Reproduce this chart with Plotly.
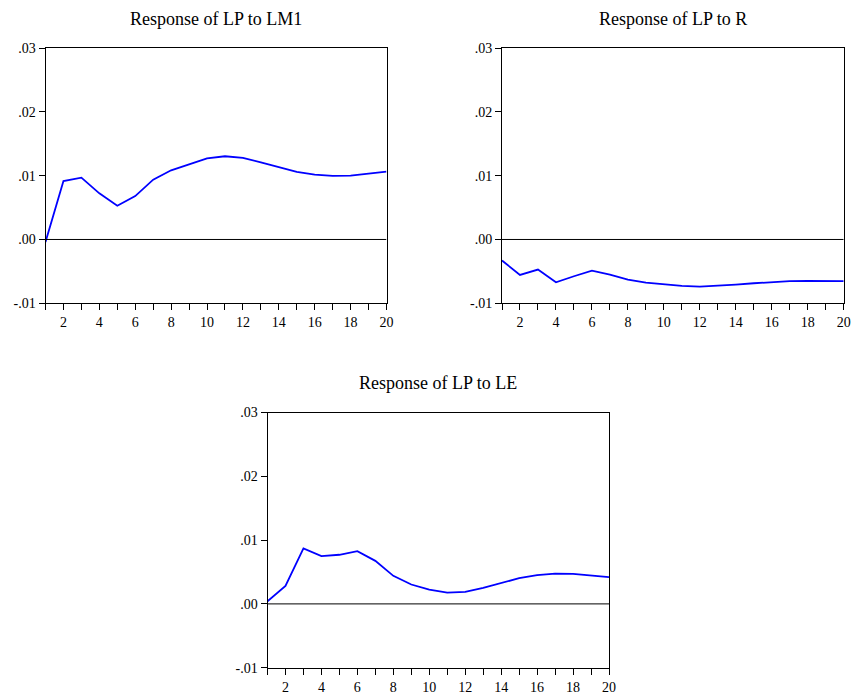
import plotly.graph_objects as go

periods = list(range(1, 21))
lm1 = [-0.0004, 0.00916, 0.00969, 0.00723, 0.00529, 0.0068, 0.00937, 0.01084, 0.01178, 0.01272,
       0.01304, 0.01277, 0.01209, 0.01136, 0.01058, 0.01016, 0.00995, 0.0100, 0.01026, 0.01063]
r = [-0.0033, -0.00555, -0.00471, -0.0067, -0.00576, -0.00487, -0.0055, -0.00628, -0.00675, -0.00707,
     -0.00728, -0.00738, -0.00728, -0.00707, -0.00686, -0.00665, -0.00654, -0.00649, -0.00649, -0.00654]
le = [0.0004, 0.00283, 0.00869, 0.00749, 0.0077, 0.00827, 0.00675, 0.0044, 0.00304, 0.00225,
      0.00178, 0.00188, 0.00251, 0.0033, 0.00403, 0.0045, 0.00476, 0.00471, 0.0045, 0.00419]
titles = ["Response of LP to LM1", "Response of LP to R", "Response of LP to LE"]
ytickvals = [-0.01, 0.0, 0.01, 0.02, 0.03]
yticktext = ["-.01", ".00", ".01", ".02", ".03"]

W, H = 856, 698
boxes = [  # left, right, top, bottom in pixels
    (45.5, 386.5, 48, 303.3),
    (502, 843.7, 48, 303.3),
    (267.5, 609, 412.5, 667.7),
]
series = [lm1, r, le]
font = "Liberation Serif, Times New Roman, serif"

fig = go.Figure()
layout = dict(width=W, height=H, margin=dict(l=0, r=0, t=0, b=0, pad=0, autoexpand=False),
              template="none",
              paper_bgcolor="white", plot_bgcolor="white", showlegend=False,
              font=dict(family=font, size=14, color="black"))
annotations = []
for i, (vals, (l, rr, t, b)) in enumerate(zip(series, boxes)):
    n = "" if i == 0 else str(i + 1)
    fig.add_trace(go.Scatter(x=periods, y=vals, mode="lines",
                             line=dict(color="#0000ff", width=1.8),
                             xaxis="x" + n, yaxis="y" + n, hoverinfo="skip"))
    fig.add_trace(go.Scatter(x=[periods[0], periods[-1]], y=[0, 0], mode="lines",
                             line=dict(color="black", width=1),
                             xaxis="x" + n, yaxis="y" + n, hoverinfo="skip"))
    layout["xaxis" + n] = dict(domain=[l / W, rr / W], range=[1, 20], anchor="y" + n,
                               automargin=False,
                               showgrid=False, zeroline=False, showline=True, mirror=True,
                               linecolor="black", linewidth=1, ticks="outside", ticklen=6,
                               tickcolor="black", tickmode="array",
                               tickvals=periods, ticktext=[str(p) if p % 2 == 0 else "" for p in periods],
                               tickfont=dict(size=14))
    layout["yaxis" + n] = dict(domain=[1 - b / H, 1 - t / H], range=[-0.01, 0.03], anchor="x" + n,
                               automargin=False,
                               showgrid=False, zeroline=False, showline=True, mirror=True,
                               linecolor="black", linewidth=1, ticks="outside", ticklen=6,
                               tickcolor="black", tickmode="array",
                               tickvals=ytickvals, ticktext=yticktext, tickfont=dict(size=14))
    annotations.append(dict(text=titles[i], x=(l + rr) / 2 / W, y=1 - (t - 29) / H,
                            xref="paper", yref="paper", showarrow=False,
                            xanchor="center", yanchor="middle",
                            font=dict(size=18, family=font, color="black")))
layout["annotations"] = annotations
fig.update_layout(**layout)
fig.write_html("out.html", config={"displayModeBar": False, "staticPlot": True},
               post_script="document.body.style.margin='0';document.body.style.overflow='hidden';")
